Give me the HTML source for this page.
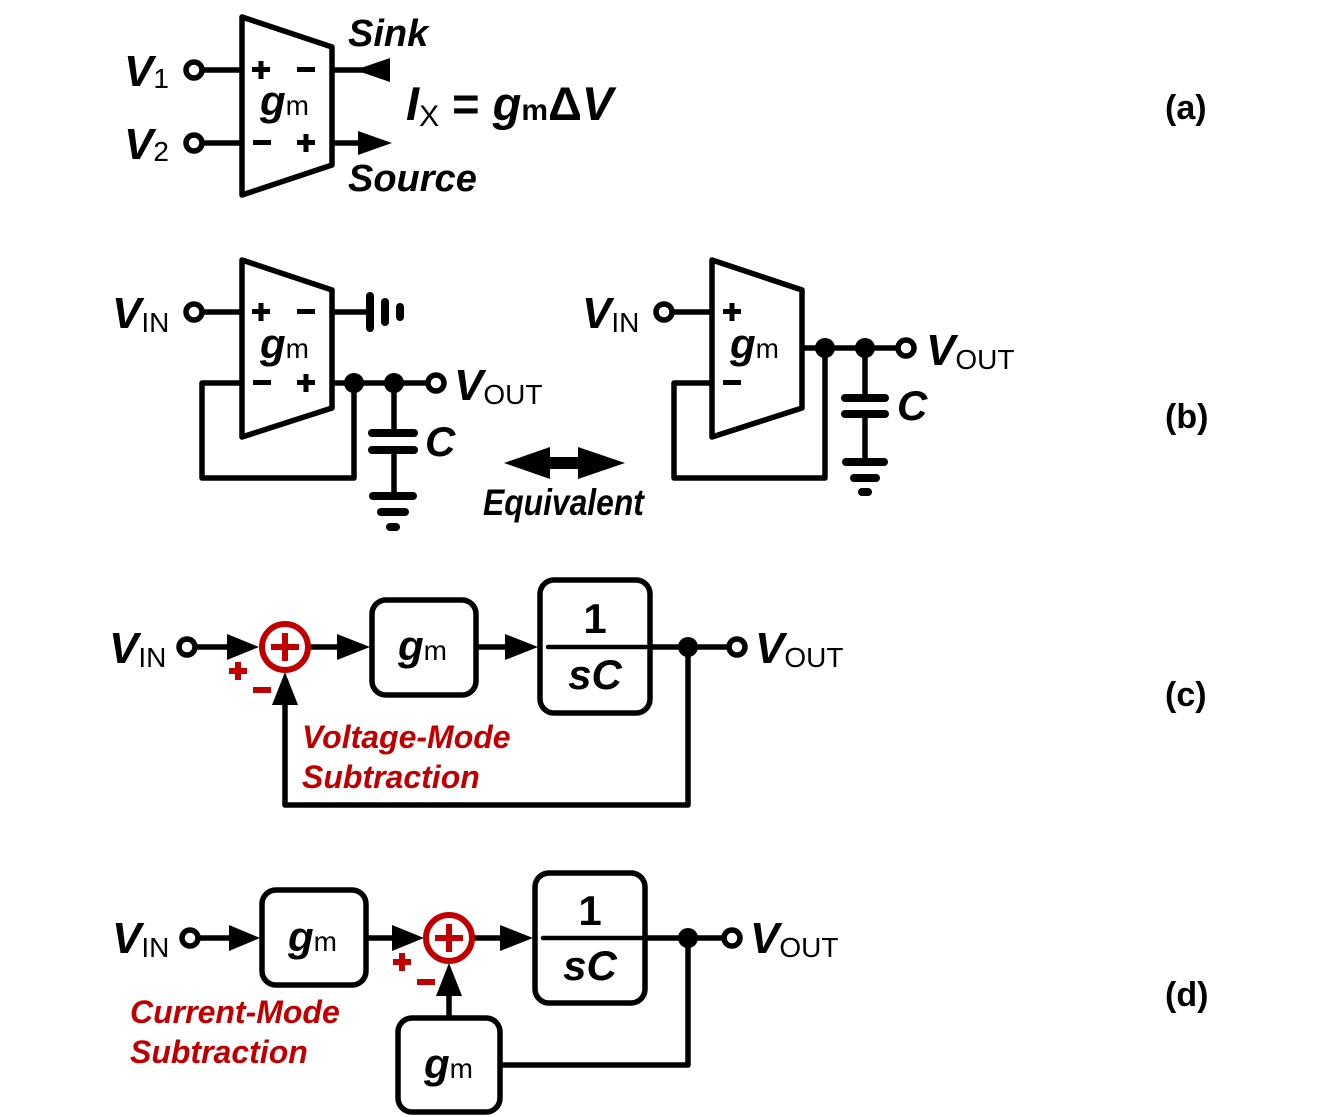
<!DOCTYPE html>
<html><head><meta charset="utf-8"><style>
html,body{margin:0;padding:0;background:#fff}
svg{display:block}
text{font-family:"Liberation Sans",Arial,sans-serif;font-weight:bold}
.it{font-style:italic}
.red{fill:#c00000}
</style></head><body>
<svg width="1323" height="1117" viewBox="0 0 1323 1117" xmlns="http://www.w3.org/2000/svg">
<g stroke="#000" stroke-width="5.5" fill="none" stroke-linejoin="round">
<!-- (a) -->
<polygon points="242,17 332,47 332,165 242,195"/>
<line x1="202" y1="70" x2="242" y2="70"/>
<line x1="202" y1="143" x2="242" y2="143"/>
<circle cx="194" cy="70" r="8"/>
<circle cx="194" cy="143" r="8"/>
<line x1="332" y1="70" x2="390" y2="70"/>
<line x1="332" y1="143" x2="360" y2="143"/>
<!-- (b) left -->
<polygon points="242,260 332,290 332,408 242,437"/>
<line x1="202" y1="312" x2="242" y2="312"/>
<circle cx="194" cy="312" r="8"/>
<line x1="332" y1="312" x2="370" y2="312"/>
<line x1="332" y1="383" x2="428" y2="383"/>
<circle cx="436" cy="383" r="8"/>
<polyline points="242,383 202,383 202,478 354,478 354,383"/>
<line x1="394" y1="383" x2="394" y2="433"/>
<line x1="394" y1="450" x2="394" y2="496"/>
<!-- (b) right -->
<polygon points="712,260 802,290 802,408 712,437"/>
<line x1="672" y1="312" x2="712" y2="312"/>
<circle cx="664" cy="312" r="8"/>
<line x1="802" y1="348" x2="898" y2="348"/>
<circle cx="906" cy="348" r="8"/>
<polyline points="712,383 674,383 674,478 825,478 825,348"/>
<line x1="865" y1="348" x2="865" y2="398"/>
<line x1="865" y1="414" x2="865" y2="462"/>
<!-- (c) -->
<circle cx="187" cy="647" r="8"/>
<line x1="195" y1="647" x2="230" y2="647"/>
<line x1="310" y1="647" x2="340" y2="647"/>
<rect x="372" y="600" width="104" height="95" rx="14"/>
<line x1="476" y1="647" x2="508" y2="647"/>
<rect x="540" y="580" width="110" height="133" rx="14"/>
<line x1="650" y1="647" x2="729" y2="647"/>
<circle cx="737" cy="647" r="8"/>
<polyline points="688,647 688,805 285,805 285,705"/>
<!-- (d) -->
<circle cx="190" cy="938" r="8"/>
<line x1="198" y1="938" x2="232" y2="938"/>
<rect x="262" y="890" width="104" height="95" rx="14"/>
<line x1="366" y1="938" x2="395" y2="938"/>
<line x1="474" y1="938" x2="503" y2="938"/>
<rect x="535" y="873" width="110" height="130" rx="14"/>
<line x1="645" y1="938" x2="724" y2="938"/>
<circle cx="732" cy="938" r="8"/>
<polyline points="688,938 688,1065 500,1065"/>
<rect x="398" y="1018" width="102" height="94" rx="14"/>
<line x1="449" y1="1018" x2="449" y2="996"/>
</g>
<g stroke="#000" stroke-width="4.5" stroke-linecap="round">
<line x1="548" y1="647" x2="646" y2="647"/>
<line x1="543" y1="938" x2="641" y2="938"/>
</g>
<!-- capacitors/grounds -->
<g stroke="#000" stroke-width="8" stroke-linecap="round">
<line x1="372" y1="433" x2="414" y2="433"/>
<line x1="372" y1="450" x2="414" y2="450"/>
<line x1="373" y1="496" x2="413" y2="496"/>
<line x1="381" y1="512" x2="405" y2="512"/>
<line x1="390" y1="527" x2="396" y2="527"/>
<line x1="845" y1="398" x2="885" y2="398"/>
<line x1="845" y1="414" x2="885" y2="414"/>
<line x1="846" y1="462" x2="884" y2="462"/>
<line x1="854" y1="478" x2="876" y2="478"/>
<line x1="862" y1="492" x2="868" y2="492"/>
<line x1="370" y1="296" x2="370" y2="328"/>
<line x1="385" y1="302" x2="385" y2="322"/>
<line x1="400" y1="307" x2="400" y2="317"/>
</g>
<g fill="#000">
<circle cx="354" cy="383" r="10"/><circle cx="394" cy="383" r="10"/>
<circle cx="825" cy="348" r="10"/><circle cx="865" cy="348" r="10"/>
<circle cx="688" cy="647" r="10"/><circle cx="688" cy="938" r="10"/>
<polygon points="355,70 390,58 390,82"/>
<polygon points="392,143 358,131 358,155"/>
<polygon points="227,634 259,647 227,660"/>
<polygon points="337,634 370,647 337,660"/>
<polygon points="505,634 538,647 505,660"/>
<polygon points="272,705 285,672 298,705"/>
<polygon points="229,925 260,938 229,951"/>
<polygon points="392,925 424,938 392,951"/>
<polygon points="500,925 533,938 500,951"/>
<polygon points="436,996 449,963 462,996"/>
<polygon points="504,463 550,447 550,457 578,457 578,447 625,463 578,479 578,469 550,469 550,479"/>
<rect x="252" y="67" width="18" height="5"/><rect x="258.5" y="61" width="5" height="18"/>
<rect x="297" y="67" width="18" height="5"/>
<rect x="253" y="140" width="18" height="5"/>
<rect x="297" y="140" width="18" height="5"/><rect x="303.5" y="134" width="5" height="18"/>
<rect x="252" y="309" width="18" height="5"/><rect x="258.5" y="303" width="5" height="18"/>
<rect x="297" y="309" width="18" height="5"/>
<rect x="253" y="380" width="18" height="5"/>
<rect x="297" y="380" width="18" height="5"/><rect x="303.5" y="374" width="5" height="18"/>
<rect x="723" y="309" width="18" height="5"/><rect x="729.5" y="303" width="5" height="18"/>
<rect x="723" y="380" width="18" height="5"/>
</g>
<g stroke="#c00000" stroke-width="6" fill="none">
<circle cx="285" cy="647" r="23"/>
<circle cx="449" cy="938" r="23"/>
</g>
<g fill="#c00000">
<rect x="271" y="644" width="28" height="6"/><rect x="282" y="633" width="6" height="28"/>
<rect x="435" y="935" width="28" height="6"/><rect x="446" y="924" width="6" height="28"/>
<rect x="229" y="668" width="18" height="6"/><rect x="235" y="662" width="6" height="18"/>
<rect x="253" y="687" width="18" height="6"/>
<rect x="393" y="959" width="18" height="6"/><rect x="399" y="953" width="6" height="18"/>
<rect x="417" y="979" width="18" height="6"/>
</g>
<text x="124" y="86" font-size="44" class="it">V<tspan font-size="28" font-style="normal" font-weight="normal" dy="2">1</tspan></text>
<text x="124" y="159" font-size="44" class="it">V<tspan font-size="28" font-style="normal" font-weight="normal" dy="2">2</tspan></text>
<text x="260" y="115" font-size="42" class="it">g<tspan font-size="28" font-style="normal" font-weight="normal">m</tspan></text>
<text x="348" y="46" font-size="38" class="it">Sink</text>
<text x="348" y="191" font-size="38" class="it">Source</text>
<text x="406" y="120" font-size="47" class="it">I<tspan font-size="30" font-style="normal" font-weight="normal" dy="6">X</tspan><tspan dy="-6" font-style="normal"> = </tspan>g<tspan font-size="30" font-style="normal">m</tspan><tspan font-style="normal">Δ</tspan>V</text>

<text x="112" y="328" font-size="44" class="it">V<tspan font-size="28" font-style="normal" font-weight="normal" dy="4">IN</tspan></text>
<text x="260" y="358" font-size="42" class="it">g<tspan font-size="28" font-style="normal" font-weight="normal">m</tspan></text>
<text x="454" y="400" font-size="44" class="it">V<tspan font-size="28" font-style="normal" font-weight="normal" dy="4">OUT</tspan></text>
<text x="425" y="456" font-size="42" class="it">C</text>
<text x="582" y="328" font-size="44" class="it">V<tspan font-size="28" font-style="normal" font-weight="normal" dy="4">IN</tspan></text>
<text x="730" y="358" font-size="42" class="it">g<tspan font-size="28" font-style="normal" font-weight="normal">m</tspan></text>
<text x="926" y="365" font-size="44" class="it">V<tspan font-size="28" font-style="normal" font-weight="normal" dy="4">OUT</tspan></text>
<text x="897" y="420" font-size="42" class="it">C</text>
<text x="483" y="515" font-size="37" class="it" transform="translate(483,0) scale(0.86,1) translate(-483,0)">Equivalent</text>

<text x="109" y="663" font-size="44" class="it">V<tspan font-size="28" font-style="normal" font-weight="normal" dy="4">IN</tspan></text>
<text x="398" y="660" font-size="42" class="it">g<tspan font-size="28" font-style="normal" font-weight="normal">m</tspan></text>
<text x="595" y="633" font-size="42" text-anchor="middle">1</text>
<text x="595" y="689" font-size="42" class="it" text-anchor="middle">sC</text>
<text x="755" y="663" font-size="44" class="it">V<tspan font-size="28" font-style="normal" font-weight="normal" dy="4">OUT</tspan></text>
<text x="302" y="748" font-size="32" class="it red">Voltage-Mode</text>
<text x="302" y="788" font-size="32" class="it red">Subtraction</text>

<text x="112" y="953" font-size="44" class="it">V<tspan font-size="28" font-style="normal" font-weight="normal" dy="4">IN</tspan></text>
<text x="288" y="951" font-size="42" class="it">g<tspan font-size="28" font-style="normal" font-weight="normal">m</tspan></text>
<text x="590" y="925" font-size="42" text-anchor="middle">1</text>
<text x="590" y="980" font-size="42" class="it" text-anchor="middle">sC</text>
<text x="750" y="953" font-size="44" class="it">V<tspan font-size="28" font-style="normal" font-weight="normal" dy="4">OUT</tspan></text>
<text x="130" y="1023" font-size="32" class="it red">Current-Mode</text>
<text x="130" y="1063" font-size="32" class="it red">Subtraction</text>
<text x="424" y="1078" font-size="42" class="it">g<tspan font-size="28" font-style="normal" font-weight="normal">m</tspan></text>

<text x="1165" y="119" font-size="34">(a)</text>
<text x="1165" y="428" font-size="34">(b)</text>
<text x="1165" y="706" font-size="34">(c)</text>
<text x="1165" y="1006" font-size="34">(d)</text>
</svg>
</body></html>
